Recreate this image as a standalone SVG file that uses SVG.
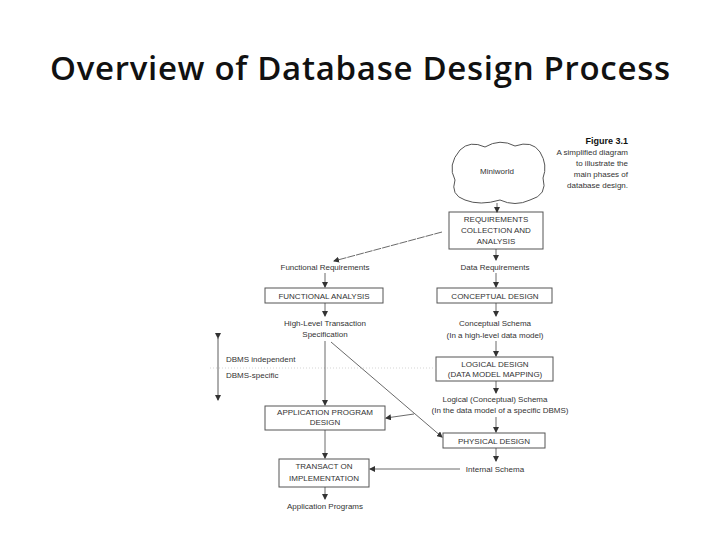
<svg xmlns="http://www.w3.org/2000/svg" width="720" height="540" viewBox="0 0 720 540">
<style>
.t{font-family:"Liberation Sans",Arial,sans-serif;font-size:8px;fill:#333;text-anchor:middle}
.b{fill:#fff;stroke:#555;stroke-width:1}
.c{stroke:#444;stroke-width:0.8;fill:none;marker-end:url(#a)}
</style>
<defs><marker id="a" markerWidth="6" markerHeight="6" refX="5" refY="3" orient="auto" markerUnits="userSpaceOnUse"><path d="M0,0L6,3L0,6z" fill="#333"/></marker>
<marker id="s" markerWidth="6" markerHeight="6" refX="1" refY="3" orient="auto-start-reverse" markerUnits="userSpaceOnUse"><path d="M6,0L0,3L6,6z" fill="#333"/></marker></defs>
<rect width="720" height="540" fill="#fff"/>
<text x="360" y="80" font-family="'Open Sans','Liberation Sans',sans-serif" font-size="33" font-weight="600" text-anchor="middle" fill="#111" textLength="620" lengthAdjust="spacing">Overview of Database Design Process</text>
<g id="caption" class="t" style="text-anchor:end">
<text x="628" y="144" font-weight="bold" font-size="9" fill="#111">Figure 3.1</text>
<text x="628" y="155">A simplified diagram</text>
<text x="628" y="166">to illustrate the</text>
<text x="628" y="177">main phases of</text>
<text x="628" y="188">database design.</text>
</g>
<g id="miniworld"><path class="b" d="M460,150 Q470,140 485,147 Q500,138 515,146 Q532,140 540,152 Q548,165 543,178 Q548,195 530,200 Q515,207 500,200 Q480,206 465,200 Q450,195 455,180 Q447,165 460,150z"/><text class="t" x="497" y="174">Miniworld</text></g>
<g id="req"><rect class="b" x="449" y="212" width="94" height="37"/><text class="t" x="496" y="222">REQUIREMENTS</text><text class="t" x="496" y="233">COLLECTION AND</text><text class="t" x="496" y="244">ANALYSIS</text></g>
<g id="labels" class="t">
<text x="325" y="270">Functional Requirements</text>
<text x="495" y="270">Data Requirements</text>
<text x="325" y="326">High-Level Transaction</text>
<text x="325" y="337">Specification</text>
<text x="495" y="326">Conceptual Schema</text>
<text x="495" y="338">(In a high-level data model)</text>
<text x="495" y="402">Logical (Conceptual) Schema</text>
<text x="500" y="413">(In the data model of a specific DBMS)</text>
<text x="495" y="472">Internal Schema</text>
<text x="325" y="509">Application Programs</text>
<text x="226" y="362" style="text-anchor:start">DBMS independent</text>
<text x="226" y="378" style="text-anchor:start">DBMS-specific</text>
</g>
<g id="fa"><rect class="b" x="265" y="288" width="118" height="15"/><text class="t" x="324" y="299">FUNCTIONAL ANALYSIS</text></g>
<g id="cd"><rect class="b" x="437" y="288" width="115" height="15"/><text class="t" x="495" y="299">CONCEPTUAL DESIGN</text></g>
<g id="ld"><rect class="b" x="436" y="357" width="117" height="24"/><text class="t" x="495" y="367">LOGICAL DESIGN</text><text class="t" x="495" y="377">(DATA MODEL MAPPING)</text></g>
<g id="apd"><rect class="b" x="265" y="406" width="120" height="24"/><text class="t" x="325" y="415">APPLICATION PROGRAM</text><text class="t" x="325" y="425">DESIGN</text></g>
<g id="pd"><rect class="b" x="443" y="433" width="102" height="15"/><text class="t" x="494" y="444">PHYSICAL DESIGN</text></g>
<g id="ti"><rect class="b" x="279" y="459" width="90" height="28"/><text class="t" x="324" y="469">TRANSACT ON</text><text class="t" x="324" y="481">IMPLEMENTATION</text></g>
<g id="connectors">
<line x1="210" y1="368" x2="436" y2="368" stroke="#bbb" stroke-width="0.6" stroke-dasharray="1,2"/>
<line x1="218" y1="338" x2="218" y2="400" stroke="#333" stroke-width="0.8" marker-start="url(#s)" marker-end="url(#a)"/>
<line class="c" x1="497" y1="203" x2="497" y2="212"/>
<line class="c" x1="442" y1="232" x2="334" y2="261" stroke-dasharray="8,1"/>
<line class="c" x1="496" y1="249" x2="496" y2="260"/>
<line class="c" x1="325" y1="273" x2="325" y2="287"/>
<line class="c" x1="496" y1="273" x2="496" y2="287"/>
<line class="c" x1="325" y1="303" x2="325" y2="316"/>
<line class="c" x1="496" y1="303" x2="496" y2="316"/>
<line class="c" x1="496" y1="341" x2="496" y2="356"/>
<line class="c" x1="325" y1="341" x2="325" y2="405"/>
<line class="c" x1="331" y1="342" x2="442" y2="437"/>
<line class="c" x1="496" y1="381" x2="496" y2="393"/>
<line class="c" x1="414" y1="414" x2="386" y2="418"/>
<line class="c" x1="496" y1="417" x2="496" y2="432"/>
<line class="c" x1="496" y1="448" x2="496" y2="461"/>
<line class="c" x1="460" y1="469" x2="370" y2="469"/>
<line class="c" x1="325" y1="430" x2="325" y2="458"/>
<line class="c" x1="325" y1="487" x2="325" y2="499"/>
</g>
</svg>
